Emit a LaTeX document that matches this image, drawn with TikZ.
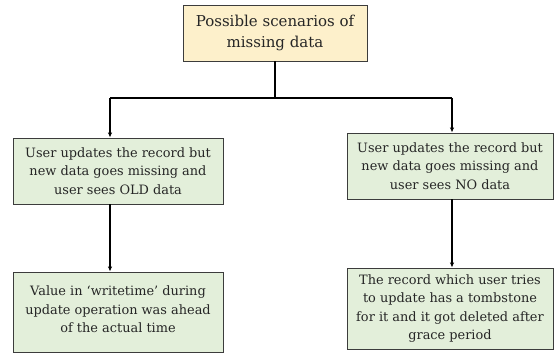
\documentclass[tikz,border=0pt]{standalone}
\usepackage{fontspec}
\setmainfont{DejaVu Serif}
\usetikzlibrary{arrows.meta}
\definecolor{headfill}{HTML}{FDF0CB}
\definecolor{casefill}{HTML}{E3EFDA}
\definecolor{edgegray}{HTML}{3C3C3C}
\definecolor{inkgray}{HTML}{262626}
\tikzset{
  box/.style={draw=edgegray, line width=0.9pt, align=center, inner sep=2pt, text=inkgray},
  headbox/.style={box, fill=headfill, minimum width=184pt, minimum height=56pt, font=\fontsize{15}{21}\selectfont},
  casebox/.style={box, fill=casefill, font=\fontsize{12.9}{18.5}\selectfont},
  link/.style={line width=1.1pt, black},
  arrowlink/.style={link, -{Latex[length=5pt,width=4.5pt]}}
}
\begin{document}
\begin{tikzpicture}[x=1pt,y=1pt]
  \useasboundingbox (0,0) rectangle (554,-354);
  \node[headbox] (top) at (275,-33) {Possible scenarios of\\missing data};
  \node[casebox, minimum width=210pt, minimum height=66pt] (oldcase) at (118,-171)
    {User updates the record but\\new data goes missing and\\user sees OLD data};
  \node[casebox, minimum width=206pt, minimum height=66pt] (nocase) at (450,-166)
    {User updates the record but\\new data goes missing and\\user sees NO data};
  \node[casebox, minimum width=210pt, minimum height=80pt, text depth=5pt] (oldcause) at (118,-312)
    {Value in ‘writetime’ during\\update operation was ahead\\of the actual time};
  \node[casebox, minimum width=206pt, minimum height=81pt] (nocause) at (450,-308.5)
    {The record which user tries\\to update has a tombstone\\for it and it got deleted after\\grace period};
  % branch junctions
  \coordinate (jl) at (110,-98);
  \coordinate (jr) at (452,-98);
  \draw[link] (top.south) -- (top.south |- jl);
  \draw[link] (jl) -- (jr);
  \draw[arrowlink] (jl) -- (jl |- oldcase.north);
  \draw[arrowlink] (jr) -- (jr |- nocase.north);
  \draw[arrowlink] (jl |- oldcase.south) -- (jl |- oldcause.north);
  \draw[arrowlink] (jr |- nocase.south) -- (jr |- nocause.north);
\end{tikzpicture}
\end{document}
